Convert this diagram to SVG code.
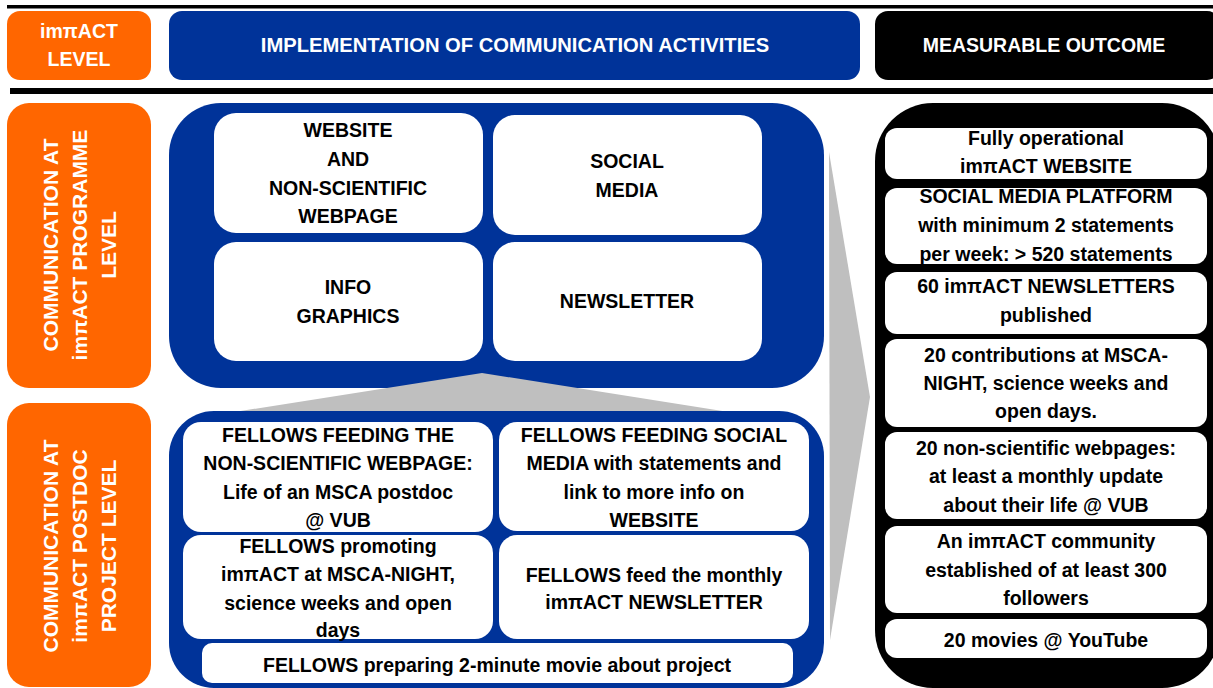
<svg xmlns="http://www.w3.org/2000/svg" width="1213" height="688" viewBox="0 0 1213 688">
<style>
text{font-family:"Liberation Sans",Arial,sans-serif;font-weight:bold;font-size:19.5px;text-anchor:middle;fill:#000}
.w{fill:#fff}
.h{font-size:20.2px}
.v{font-size:21px;fill:#fff}
.or{fill:#ff6600}
.bl{fill:#003399}
.bk{fill:#000}
.wb{fill:#fff}
.gr{fill:#bfbfbf}
</style>
<rect width="1213" height="688" fill="#fff"/>
<g id="rules">
<rect x="7" y="5" width="1206" height="3.5" class="bk"/>
<rect x="10" y="88" width="1203" height="6" class="bk"/>
</g>
<g id="hdr-level">
<rect x="7" y="11" width="144" height="69" rx="13" class="or"/>
<text class="w" x="79" y="38">imπACT</text>
<text class="w" x="79" y="66">LEVEL</text>
</g>
<g id="hdr-impl">
<rect x="169" y="11" width="691" height="69" rx="13" class="bl"/>
<text class="w h" x="515" y="52">IMPLEMENTATION OF COMMUNICATION ACTIVITIES</text>
</g>
<g id="hdr-outcome">
<rect x="875" y="11" width="345" height="69" rx="13" class="bk"/>
<text class="w" x="1044" y="52">MEASURABLE OUTCOME</text>
</g>
<g id="lvl-programme">
<rect x="7" y="103" width="144" height="285" rx="22" class="or"/>
<g transform="translate(58,245) rotate(-90)"><text class="v" x="0" y="0">COMMUNICATION AT</text></g>
<g transform="translate(87,245) rotate(-90)"><text class="v" x="0" y="0">imπACT PROGRAMME</text></g>
<g transform="translate(116,245) rotate(-90)"><text class="v" x="0" y="0">LEVEL</text></g>
</g>
<g id="lvl-postdoc">
<rect x="7" y="403" width="144" height="284" rx="22" class="or"/>
<g transform="translate(58,546) rotate(-90)"><text class="v" x="0" y="0">COMMUNICATION AT</text></g>
<g transform="translate(87,546) rotate(-90)"><text class="v" x="0" y="0">imπACT POSTDOC</text></g>
<g transform="translate(116,546) rotate(-90)"><text class="v" x="0" y="0">PROJECT LEVEL</text></g>
</g>
<g id="programme-activities">
<rect x="169" y="103" width="655" height="285" rx="52" class="bl"/>
<rect x="214" y="113" width="269" height="120" rx="22" class="wb"/>
<text x="348" y="137">WEBSITE</text>
<text x="348" y="166">AND</text>
<text x="348" y="195">NON-SCIENTIFIC</text>
<text x="348" y="223">WEBPAGE</text>
<rect x="493" y="115" width="269" height="120" rx="22" class="wb"/>
<text x="627" y="168">SOCIAL</text>
<text x="627" y="197">MEDIA</text>
<rect x="214" y="242" width="269" height="119" rx="22" class="wb"/>
<text x="348" y="294">INFO</text>
<text x="348" y="323">GRAPHICS</text>
<rect x="493" y="242" width="269" height="119" rx="22" class="wb"/>
<text x="627" y="308">NEWSLETTER</text>
</g>
<g id="connectors">
<polygon class="gr" points="228,413 482,373 735,413"/>
<polygon class="gr" points="829,152 870,397 830,640"/>
</g>
<g id="postdoc-activities">
<rect x="169" y="411" width="655" height="277" rx="45" class="bl"/>
<rect x="183" y="422" width="310" height="110" rx="18" class="wb"/>
<text x="338" y="442">FELLOWS FEEDING THE</text>
<text x="338" y="470">NON-SCIENTIFIC WEBPAGE:</text>
<text x="338" y="499">Life of an MSCA postdoc</text>
<text x="338" y="527">@ VUB</text>
<rect x="499" y="422" width="310" height="109" rx="18" class="wb"/>
<text x="654" y="442">FELLOWS FEEDING SOCIAL</text>
<text x="654" y="470">MEDIA with statements and</text>
<text x="654" y="499">link to more info on</text>
<text x="654" y="527">WEBSITE</text>
<rect x="183" y="535" width="310" height="104" rx="18" class="wb"/>
<text x="338" y="553">FELLOWS promoting</text>
<text x="338" y="581">imπACT at MSCA-NIGHT,</text>
<text x="338" y="610">science weeks and open</text>
<text x="338" y="637">days</text>
<rect x="499" y="535" width="310" height="104" rx="18" class="wb"/>
<text x="654" y="582">FELLOWS feed the monthly</text>
<text x="654" y="609">imπACT NEWSLETTER</text>
<rect x="202" y="643" width="591" height="40" rx="10" class="wb"/>
<text x="497" y="672">FELLOWS preparing 2-minute movie about project</text>
</g>
<g id="outcomes">
<rect x="875" y="103" width="345" height="585" rx="58" class="bk"/>
<rect x="885" y="128" width="322" height="51" rx="12" class="wb"/>
<text x="1046" y="145">Fully operational</text>
<text x="1046" y="173">imπACT WEBSITE</text>
<rect x="885" y="188" width="322" height="76" rx="12" class="wb"/>
<text x="1046" y="203">SOCIAL MEDIA PLATFORM</text>
<text x="1046" y="232">with minimum 2 statements</text>
<text x="1046" y="261">per week: &gt; 520 statements</text>
<rect x="885" y="272" width="322" height="62" rx="12" class="wb"/>
<text x="1046" y="293">60 imπACT NEWSLETTERS</text>
<text x="1046" y="322">published</text>
<rect x="885" y="339" width="322" height="88" rx="12" class="wb"/>
<text x="1046" y="362">20 contributions at MSCA-</text>
<text x="1046" y="390">NIGHT, science weeks and</text>
<text x="1046" y="418">open days.</text>
<rect x="885" y="432" width="322" height="87" rx="12" class="wb"/>
<text x="1046" y="455">20 non-scientific webpages:</text>
<text x="1046" y="483">at least a monthly update</text>
<text x="1046" y="512">about their life @ VUB</text>
<rect x="885" y="526" width="322" height="87" rx="12" class="wb"/>
<text x="1046" y="548">An imπACT community</text>
<text x="1046" y="577">established of at least 300</text>
<text x="1046" y="605">followers</text>
<rect x="885" y="619" width="322" height="39" rx="12" class="wb"/>
<text x="1046" y="647">20 movies @ YouTube</text>
</g>
</svg>
